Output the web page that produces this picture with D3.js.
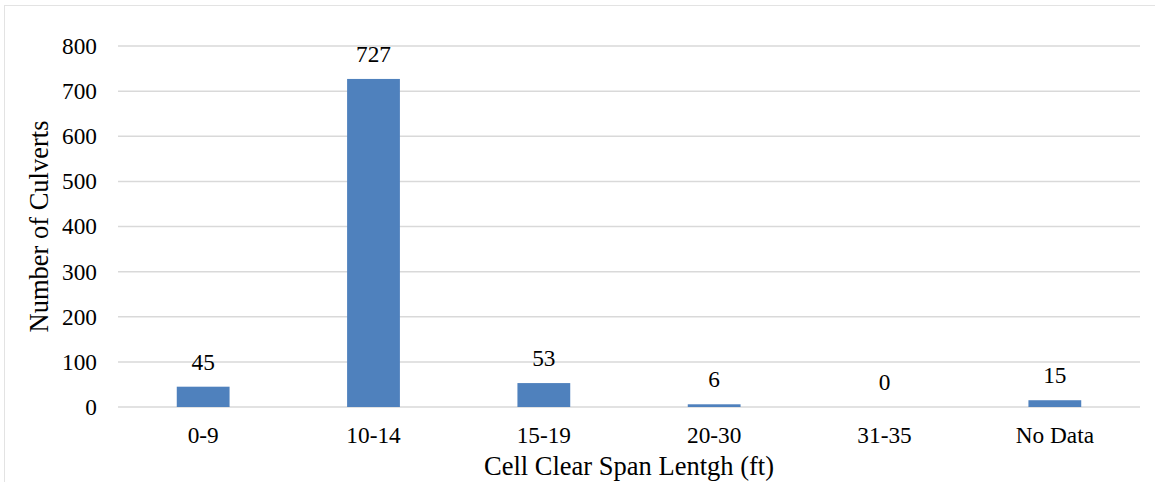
<!DOCTYPE html>
<html lang="en">
<head>
<meta charset="UTF-8">
<script src="https://d3js.org/d3.v7.min.js"></script>
<style>
  body { margin: 0; background: #fff; }
  text { font-family: "Liberation Serif", "Times New Roman", serif; fill: #000; }
</style>
</head>
<body>
<div id="chart"></div>
<script>
// data
var categories = ["0-9", "10-14", "15-19", "20-30", "31-35", "No Data"];
var counts = [45, 727, 53, 6, 0, 15];
var yTicks = [0, 100, 200, 300, 400, 500, 600, 700, 800];

var W = 1155, H = 482;
var margin = {top: 46, right: 15, bottom: 75, left: 118},
    width = 1140 - margin.left,
    height = 407 - margin.top;

var svg = d3.select("#chart")
  .append("svg")
    .attr("width", W)
    .attr("height", H);

// outer frame
svg.append("rect")
  .attr("x", 4.5).attr("y", 5.5)
  .attr("width", W + 10).attr("height", H + 10)
  .attr("fill", "none")
  .attr("stroke", "#e3e3e3")
  .attr("stroke-width", 1);

var g = svg.append("g")
  .attr("transform", "translate(" + margin.left + "," + margin.top + ")");

var x = d3.scaleBand()
  .domain(categories)
  .range([0, width])
  .paddingInner(0.69)
  .paddingOuter(0.345);

var y = d3.scaleLinear()
  .domain([0, 800])
  .range([height, 0]);

// gridlines
g.selectAll(".grid")
  .data(yTicks)
  .enter()
  .append("line")
    .attr("x1", 0).attr("x2", width)
    .attr("y1", function(d) { return y(d); })
    .attr("y2", function(d) { return y(d); })
    .attr("stroke", "#d9d9d9")
    .attr("stroke-width", 1.5);

// y axis labels
var yAxis = g.append("g")
  .call(d3.axisLeft(y).tickValues(yTicks).tickSize(0).tickPadding(21));
yAxis.select(".domain").remove();
yAxis.selectAll("text")
  .style("font-family", "Liberation Serif, serif")
  .style("font-size", "23.3px")
  .attr("fill", "#000");

// x axis labels
var xAxis = g.append("g")
  .attr("transform", "translate(0," + height + ")")
  .call(d3.axisBottom(x).tickSize(0).tickPadding(19.5));
xAxis.select(".domain").remove();
xAxis.selectAll("text")
  .style("font-family", "Liberation Serif, serif")
  .style("font-size", "23.3px")
  .attr("fill", "#000");

// bars
var data = categories.map(function(c, i) { return {cat: c, value: counts[i]}; });

g.selectAll(".bar")
  .data(data)
  .enter()
  .append("rect")
    .attr("x", function(d) { return x(d.cat); })
    .attr("y", function(d) { return y(d.value); })
    .attr("width", x.bandwidth())
    .attr("height", function(d) { return height - y(d.value); })
    .attr("fill", "#4f81bd");

// value labels
g.selectAll(".lbl")
  .data(data)
  .enter()
  .append("text")
    .attr("x", function(d) { return x(d.cat) + x.bandwidth() / 2; })
    .attr("y", function(d) { return y(d.value) - 17; })
    .attr("text-anchor", "middle")
    .style("font-size", "23.3px")
    .text(function(d) { return d.value; });

// axis titles
svg.append("text")
  .attr("x", margin.left + width / 2)
  .attr("y", 475)
  .attr("text-anchor", "middle")
  .style("font-size", "26.5px")
  .text("Cell Clear Span Lentgh (ft)");

svg.append("text")
  .attr("transform", "translate(48," + (margin.top + height / 2) + ") rotate(-90)")
  .attr("text-anchor", "middle")
  .style("font-size", "26.5px")
  .text("Number of Culverts");
</script>
</body>
</html>
